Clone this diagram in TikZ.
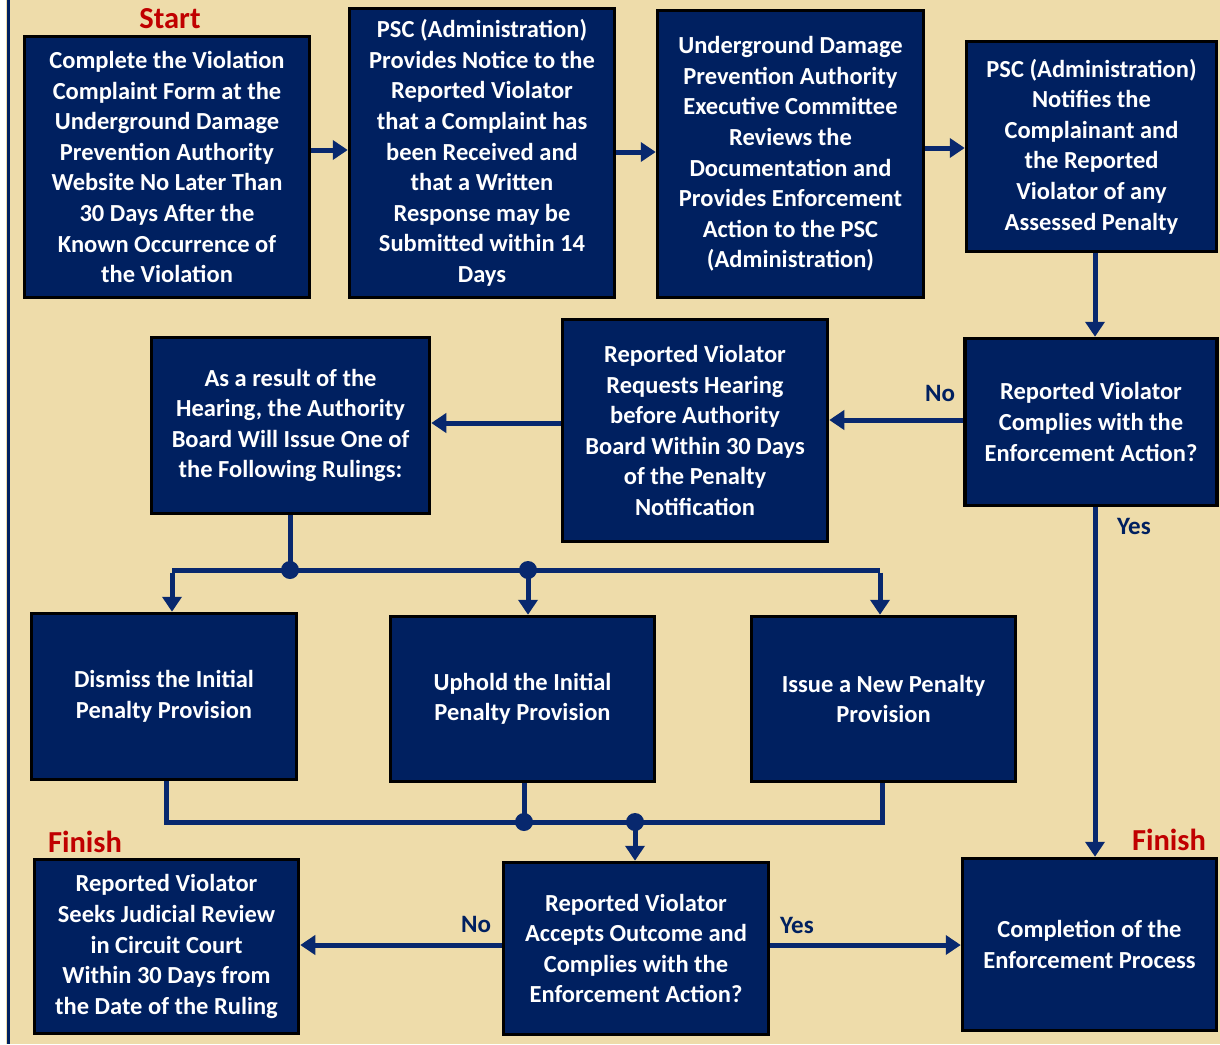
\documentclass[tikz,border=0pt]{standalone}
\usepackage{fontspec}
\setmainfont{Carlito}
\usetikzlibrary{arrows.meta}
\definecolor{navy}{RGB}{0,32,96}
\definecolor{lnavy}{RGB}{8,40,110}
\definecolor{parch}{RGB}{238,220,170}
\definecolor{rred}{RGB}{192,0,0}
\tikzset{
  box/.style={draw=black, line width=3.5pt, fill=navy, text=white, align=center,
    inner sep=0pt, font=\bfseries\fontsize{24.5}{30.6}\selectfont},
  arr/.style={draw=lnavy, line width=5pt, -{Triangle[width=19pt,length=15pt]}},
  ln/.style={draw=lnavy, line width=5pt},
  dotc/.style={fill=lnavy},
  lab/.style={text=navy, font=\bfseries\fontsize{25}{28}\selectfont, inner sep=0pt},
  redlab/.style={text=rred, font=\bfseries\fontsize{30.5}{32}\selectfont, inner sep=0pt}
}
\begin{document}
\begin{tikzpicture}[x=1pt,y=-1pt]
\useasboundingbox (0,0) rectangle (1220,1044);
\fill[parch] (0,0) rectangle (1220,1044);
\fill[white] (0,0) rectangle (6,1044);
\fill[navy] (6.5,0) rectangle (10,1044);

\node[box, minimum width=285pt, minimum height=261pt] (b1) at (167,167)
 {Complete the Violation\\Complaint Form at the\\Underground Damage\\Prevention Authority\\Website No Later Than\\30 Days After the\\Known Occurrence of\\the Violation};
\node[box, minimum width=265pt, minimum height=289pt] (b2) at (482,153)
 {PSC (Administration)\\Provides Notice to the\\Reported Violator\\that a Complaint has\\been Received and\\that a Written\\Response may be\\Submitted within 14\\Days};
\node[box, minimum width=266pt, minimum height=287pt] (b3) at (790.5,154)
 {Underground Damage\\Prevention Authority\\Executive Committee\\Reviews the\\Documentation and\\Provides Enforcement\\Action to the PSC\\(Administration)};
\node[box, minimum width=250pt, minimum height=210pt] (b4) at (1091.5,146.5)
 {PSC (Administration)\\Notifies the\\Complainant and\\the Reported\\Violator of any\\Assessed Penalty};
\node[box, minimum width=252pt, minimum height=167pt] (b5) at (1091,422)
 {Reported Violator\\Complies with the\\Enforcement Action?};
\node[box, minimum width=265pt, minimum height=222pt] (b6) at (695,430.5)
 {Reported Violator\\Requests Hearing\\before Authority\\Board Within 30 Days\\of the Penalty\\Notification};
\node[box, minimum width=278pt, minimum height=176pt] (b7) at (290.5,425.5)
 {As a result of the\\Hearing, the Authority\\Board Will Issue One of\\the Following Rulings:};
\node[box, minimum width=265pt, minimum height=166pt] (b8) at (164,696.5)
 {Dismiss the Initial\\Penalty Provision};
\node[box, minimum width=264pt, minimum height=165pt] (b9) at (522.5,699)
 {Uphold the Initial\\Penalty Provision};
\node[box, minimum width=264pt, minimum height=165pt] (b10) at (883.5,699)
 {Issue a New Penalty\\Provision};
\node[box, minimum width=264pt, minimum height=174pt] (b11) at (166.5,946.5)
 {Reported Violator\\Seeks Judicial Review\\in Circuit Court\\Within 30 Days from\\the Date of the Ruling};
\node[box, minimum width=265pt, minimum height=172pt] (b12) at (636,948.5)
 {Reported Violator\\Accepts Outcome and\\Complies with the\\Enforcement Action?};
\node[box, minimum width=254pt, minimum height=172pt] (b13) at (1089.5,944.5)
 {Completion of the\\Enforcement Process};

\node[redlab] (start) at (170,19) {Start};
\node[redlab] (fin1) at (85,842) {Finish};
\node[redlab] (fin2) at (1169,840) {Finish};
\node[lab] (no1) at (940,393) {No};
\node[lab] (yes1) at (1134,526) {Yes};
\node[lab] (no2) at (476,924) {No};
\node[lab] (yes2) at (797,925) {Yes};

\draw[arr] (b1.east |- 0,150) -- (b2.west |- 0,150);
\draw[arr] (b2.east |- 0,152) -- (b3.west |- 0,152);
\draw[arr] (b3.east |- 0,148) -- (b4.west |- 0,148);
\draw[arr] (b4.south -| 1095,0) -- (b5.north -| 1095,0);
\draw[arr] (b5.west |- 0,420) -- (b6.east |- 0,420);
\draw[arr] (b6.west |- 0,423) -- (b7.east |- 0,423);

\coordinate (j1) at (290,570);
\coordinate (j2) at (528,570);
\coordinate (jl) at (172,570);
\coordinate (jr) at (880,570);
\draw[ln] (b7.south -| j1) -- (j1);
\draw[ln] (jl) -- (jr);
\draw[arr] ([yshift=-2.5pt]jl) -- (b8.north -| jl);
\draw[arr] (j2) -- (b9.north -| j2);
\draw[arr] ([yshift=-2.5pt]jr) -- (b10.north -| jr);
\fill[dotc] (j1) circle (9pt);
\fill[dotc] (j2) circle (9pt);

\coordinate (m1) at (166,822);
\coordinate (m2) at (524,822);
\coordinate (m3) at (882,822);
\coordinate (m4) at (635,822);
\draw[ln, line join=miter] (b8.south -| m1) -- (m1) -- (m3) -- (b10.south -| m3);
\draw[ln] (b9.south -| m2) -- (m2);
\draw[arr] (m4) -- (b12.north -| m4);
\fill[dotc] (m2) circle (9pt);
\fill[dotc] (m4) circle (9pt);

\draw[arr] (b12.west |- 0,945) -- (b11.east |- 0,945);
\draw[arr] (b12.east |- 0,945) -- (b13.west |- 0,945);
\draw[arr] (b5.south -| 1095,0) -- (b13.north -| 1095,0);
\end{tikzpicture}
\end{document}
